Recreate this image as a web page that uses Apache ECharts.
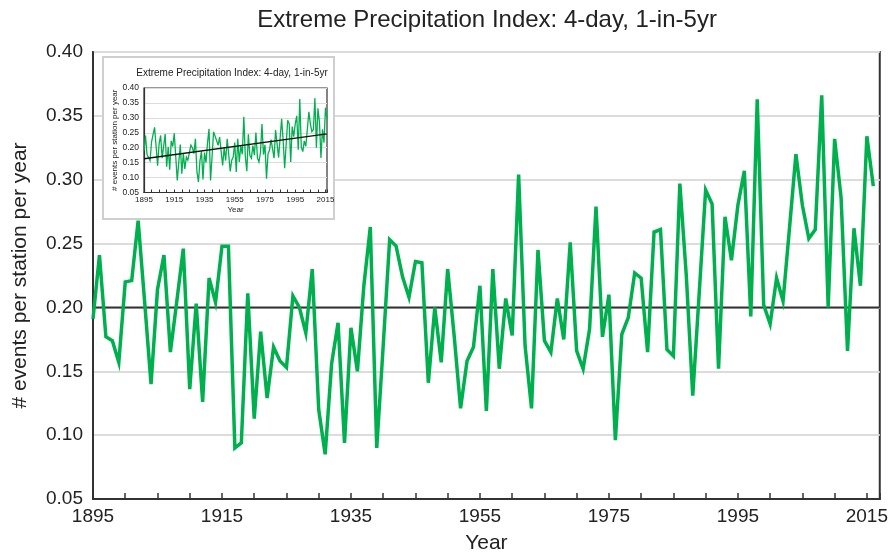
<!DOCTYPE html>
<html>
<head>
<meta charset="utf-8">
<script src="https://cdn.jsdelivr.net/npm/echarts@6/dist/echarts.min.js"></script>
<style>
html,body{margin:0;padding:0;background:#fff;}
#chart{width:891px;height:559px;}
</style>
</head>
<body>
<div id="chart"></div>
<script>
// ---- data ----
var titleText = 'Extreme Precipitation Index: 4-day, 1-in-5yr';
var xAxisName = 'Year';
var yAxisName = '# events per station per year';
var firstYear = 1895;
var values = [
  0.191, 0.241, 0.177, 0.174, 0.157, 0.220, 0.221, 0.268, 0.205, 0.140, // 1895-1904
  0.214, 0.241, 0.165, 0.205, 0.246, 0.136, 0.203, 0.126, 0.223, 0.204, // 1905-1914
  0.248, 0.248, 0.090, 0.094, 0.211, 0.113, 0.181, 0.129, 0.169, 0.158, // 1915-1924
  0.153, 0.209, 0.200, 0.180, 0.230, 0.120, 0.085, 0.156, 0.188, 0.094, // 1925-1934
  0.184, 0.150, 0.217, 0.263, 0.090, 0.170, 0.253, 0.248, 0.224, 0.208, // 1935-1944
  0.236, 0.235, 0.141, 0.200, 0.157, 0.230, 0.178, 0.121, 0.158, 0.169, // 1945-1954
  0.217, 0.119, 0.230, 0.152, 0.207, 0.178, 0.304, 0.170, 0.121, 0.245, // 1955-1964
  0.174, 0.165, 0.207, 0.175, 0.251, 0.166, 0.152, 0.183, 0.279, 0.177, // 1965-1974
  0.210, 0.096, 0.179, 0.192, 0.227, 0.223, 0.165, 0.259, 0.261, 0.167, // 1975-1984
  0.162, 0.297, 0.225, 0.131, 0.211, 0.292, 0.281, 0.152, 0.271, 0.237, // 1985-1994
  0.280, 0.307, 0.193, 0.363, 0.202, 0.187, 0.223, 0.205, 0.262, 0.320, // 1995-2004
  0.280, 0.254, 0.261, 0.366, 0.200, 0.332, 0.286, 0.166, 0.262, 0.217, // 2005-2014
  0.334, 0.295                                                          // 2015-2016
];
var referenceLevel = [0.20];
var trendYears = [1895, 2016];
var trendValues = [0.163, 0.246];
var yTickLabels = ['0.05','0.10','0.15','0.20','0.25','0.30','0.35','0.40'];
var xTickLabels = ['1895','1915','1935','1955','1975','1995','2015'];

// ---- build ----
var seriesData = values.map(function (v, i) { return [firstYear + i, v]; });
var trendData = trendYears.map(function (y, i) { return [y, trendValues[i]]; });
var refData = [[1895, referenceLevel[0]], [2017, referenceLevel[0]]];

function xFmt(v) {
  var s = String(Math.round(v));
  return xTickLabels.indexOf(s) >= 0 ? s : '';
}
function yFmt(v) {
  var s = v.toFixed(2);
  return yTickLabels.indexOf(s) >= 0 ? s : '';
}

var FONT = '"Liberation Sans", Arial, sans-serif';
var chart = echarts.init(document.getElementById('chart'), null, {renderer: 'canvas'});
chart.setOption({
  animation: false,
  backgroundColor: '#fff',
  textStyle: {fontFamily: FONT, color: '#222'},
  graphic: [
    {type: 'text', x: 487, y: 20, z: 10,
     style: {text: titleText, fontSize: 24, fontFamily: FONT, fill: '#222', align: 'center', verticalAlign: 'middle'}},
    {type: 'rect', z: 5, shape: {x: 103, y: 57, width: 231, height: 162},
     style: {fill: '#fff', stroke: '#cfcfcf', lineWidth: 2}},
    {type: 'text', x: 232, y: 73, z: 10,
     style: {text: titleText, fontSize: 10, fontFamily: FONT, fill: '#222', align: 'center', verticalAlign: 'middle'}}
  ],
  grid: [
    {left: 93, right: 9, top: 52, bottom: 56, show: true, borderColor: '#333', borderWidth: 2, backgroundColor: 'transparent', z: 0},
    {left: 144, top: 88, width: 183, height: 104.5, show: true, borderColor: '#333', borderWidth: 1.2, backgroundColor: 'transparent', z: 6}
  ],
  xAxis: [
    {type: 'value', gridIndex: 0, min: 1895, max: 2017, interval: 5,
     axisLine: {show: true, lineStyle: {color: '#333', width: 2}},
     axisTick: {show: true, inside: true, length: 6, lineStyle: {color: '#333', width: 1.5}},
     axisLabel: {formatter: xFmt, fontSize: 19, color: '#222', margin: 8, fontFamily: FONT},
     splitLine: {show: false},
     name: xAxisName, nameLocation: 'middle', nameGap: 34,
     nameTextStyle: {fontSize: 21, color: '#222', fontFamily: FONT}},
    {type: 'value', gridIndex: 1, min: 1895, max: 2016, interval: 5, z: 6,
     axisLine: {show: true, lineStyle: {color: '#333', width: 1.2}},
     axisTick: {show: true, inside: true, length: 3, lineStyle: {color: '#333', width: 1}},
     axisLabel: {formatter: xFmt, fontSize: 8, color: '#222', margin: 3, fontFamily: FONT},
     splitLine: {show: false},
     name: xAxisName, nameLocation: 'middle', nameGap: 13,
     nameTextStyle: {fontSize: 8, color: '#222', fontFamily: FONT}}
  ],
  yAxis: [
    {type: 'value', gridIndex: 0, min: 0.05, max: 0.40, interval: 0.05,
     axisLine: {show: true, lineStyle: {color: '#333', width: 2}},
     axisTick: {show: false},
     axisLabel: {formatter: yFmt, fontSize: 19, color: '#222', margin: 10, fontFamily: FONT},
     splitLine: {show: true, lineStyle: {color: '#dcdcdc', width: 2}},
     name: yAxisName, nameLocation: 'middle', nameGap: 62,
     nameTextStyle: {fontSize: 21, color: '#222', fontFamily: FONT}},
    {type: 'value', gridIndex: 1, min: 0.05, max: 0.40, interval: 0.05, z: 6,
     axisLine: {show: true, lineStyle: {color: '#333', width: 1.2}},
     axisTick: {show: false},
     axisLabel: {formatter: yFmt, fontSize: 8.5, color: '#222', margin: 5, fontFamily: FONT},
     splitLine: {show: true, lineStyle: {color: '#dcdcdc', width: 1}},
     name: yAxisName, nameLocation: 'middle', nameGap: 25,
     nameTextStyle: {fontSize: 8, color: '#222', fontFamily: FONT}}
  ],
  series: [
    {type: 'line', xAxisIndex: 0, yAxisIndex: 0, data: refData, symbol: 'none', silent: true, z: 2,
     lineStyle: {color: '#333', width: 2}},
    {type: 'line', name: 'Index', xAxisIndex: 0, yAxisIndex: 0, data: seriesData, symbol: 'none', z: 3,
     lineStyle: {color: '#00b04f', width: 3.5, join: 'miter', miterLimit: 6}},
    {type: 'line', xAxisIndex: 1, yAxisIndex: 1, data: seriesData, symbol: 'none', z: 8,
     lineStyle: {color: '#00b04f', width: 1.3, join: 'miter', miterLimit: 4}},
    {type: 'line', xAxisIndex: 1, yAxisIndex: 1, data: trendData, symbol: 'none', z: 9,
     lineStyle: {color: '#111', width: 1.3}}
  ]
});
</script>
</body>
</html>
